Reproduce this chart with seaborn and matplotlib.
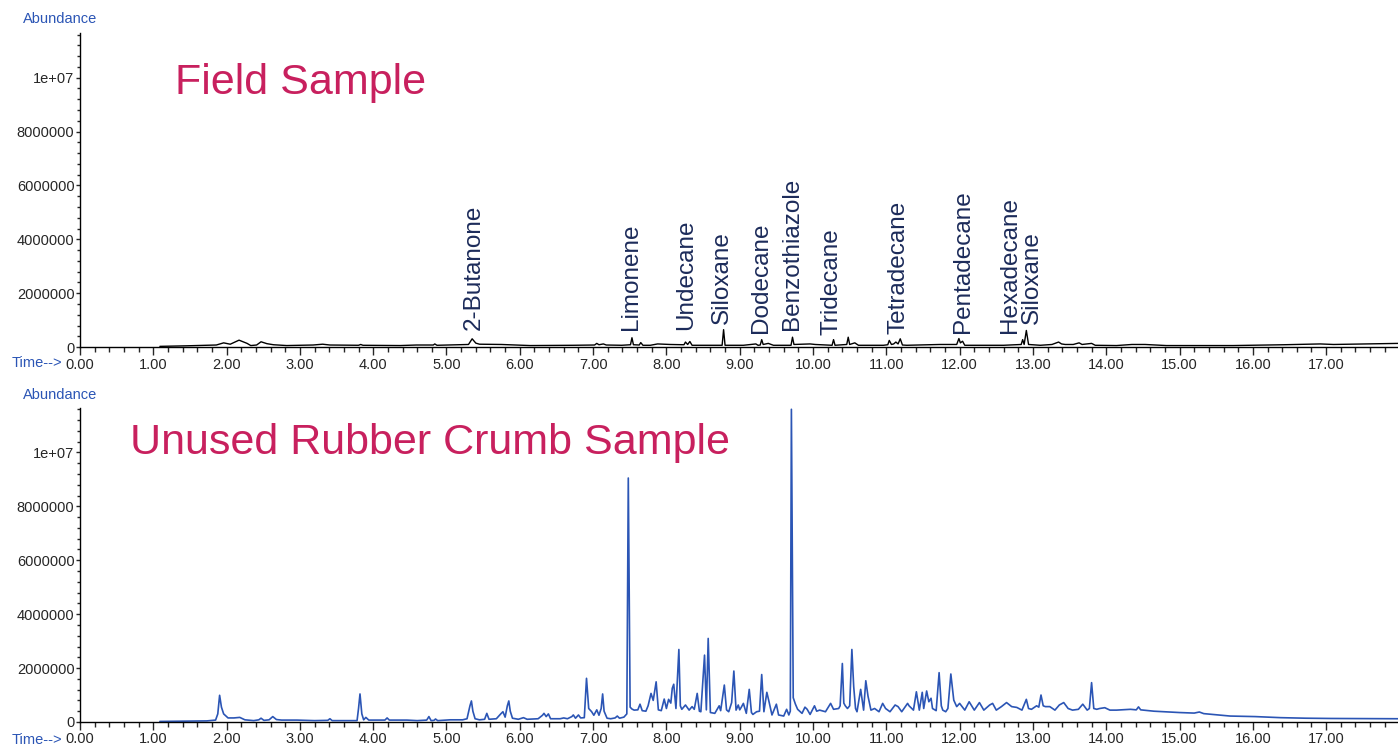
import matplotlib
matplotlib.use("Agg")
import matplotlib.pyplot as plt
import seaborn as sns
from matplotlib.ticker import MultipleLocator, FuncFormatter

# Field sample chromatogram (time in min, abundance in millions)
field_time = [1.09, 1.45, 1.86, 1.96, 2.05, 2.17, 2.28, 2.33, 2.41, 2.47, 2.55, 2.64, 2.82,
              3.18, 3.31, 3.41, 3.80, 3.83, 3.86, 4.37, 4.59, 4.82, 4.84, 4.87, 5.16, 5.30,
              5.35, 5.40, 5.45, 5.75, 6.14, 6.73, 7.02, 7.05, 7.08, 7.14, 7.18, 7.39, 7.51,
              7.53, 7.55, 7.63, 7.65, 7.68, 7.78, 7.88, 8.05, 8.24, 8.26, 8.29, 8.32, 8.35,
              8.57, 8.76, 8.78, 8.80, 9.05, 9.22, 9.25, 9.28, 9.30, 9.32, 9.39, 9.46, 9.70,
              9.72, 9.74, 9.96, 10.03, 10.26, 10.28, 10.30, 10.46, 10.48, 10.50, 10.57, 10.62,
              10.96, 11.02, 11.04, 11.07, 11.10, 11.13, 11.16, 11.19, 11.22, 11.28, 11.73,
              11.96, 11.99, 12.01, 12.04, 12.07, 12.32, 12.60, 12.84, 12.86, 12.88, 12.91,
              12.94, 13.10, 13.26, 13.35, 13.39, 13.44, 13.55, 13.63, 13.67, 13.80, 13.85,
              14.14, 14.35, 14.53, 14.82, 15.73, 16.42, 16.92, 17.10, 17.98]
field_abund = [0.03, 0.05, 0.08, 0.16, 0.11, 0.26, 0.14, 0.06, 0.08, 0.20, 0.13, 0.09, 0.06,
               0.08, 0.11, 0.08, 0.07, 0.10, 0.07, 0.06, 0.08, 0.08, 0.12, 0.07, 0.09, 0.10,
               0.31, 0.15, 0.11, 0.10, 0.06, 0.07, 0.08, 0.14, 0.09, 0.12, 0.08, 0.07, 0.09,
               0.35, 0.09, 0.08, 0.17, 0.07, 0.07, 0.12, 0.10, 0.09, 0.19, 0.10, 0.21, 0.07,
               0.07, 0.07, 0.65, 0.07, 0.07, 0.12, 0.07, 0.08, 0.28, 0.10, 0.14, 0.07, 0.07,
               0.37, 0.10, 0.12, 0.10, 0.07, 0.28, 0.07, 0.10, 0.37, 0.10, 0.16, 0.07,
               0.07, 0.09, 0.25, 0.10, 0.12, 0.19, 0.12, 0.31, 0.08, 0.07, 0.10,
               0.10, 0.32, 0.16, 0.22, 0.07, 0.07, 0.07, 0.10, 0.28, 0.10, 0.62,
               0.10, 0.07, 0.10, 0.19, 0.12, 0.10, 0.10, 0.16, 0.10, 0.14, 0.07,
               0.06, 0.10, 0.10, 0.06, 0.06, 0.09, 0.12, 0.10, 0.14]

# Unused rubber crumb chromatogram (time in min, abundance in millions)
crumb_time = [1.09, 1.40, 1.73, 1.85, 1.88, 1.905, 1.93, 1.96, 2.02, 2.10, 2.18, 2.25, 2.37,
              2.44, 2.47, 2.51, 2.58, 2.63, 2.68, 2.75, 2.96, 3.20, 3.38, 3.41, 3.44, 3.64,
              3.78, 3.80, 3.82, 3.845, 3.87, 3.90, 3.94, 4.16, 4.19, 4.22, 4.46, 4.60, 4.73,
              4.76, 4.79, 4.83, 4.85, 4.88, 5.05, 5.22, 5.28, 5.32, 5.34, 5.36, 5.39, 5.45,
              5.52, 5.55, 5.58, 5.68, 5.74, 5.77, 5.80, 5.83, 5.85, 5.87, 5.90, 5.98, 6.05,
              6.10, 6.25, 6.31, 6.33, 6.36, 6.39, 6.42, 6.55, 6.60, 6.65, 6.71, 6.73, 6.76,
              6.80, 6.83, 6.88, 6.91, 6.94, 6.98, 7.01, 7.05, 7.08, 7.11, 7.13, 7.15, 7.19,
              7.24, 7.30, 7.33, 7.36, 7.42, 7.46, 7.48, 7.505, 7.53, 7.56, 7.61, 7.64, 7.67,
              7.72, 7.75, 7.79, 7.82, 7.86, 7.89, 7.93, 7.97, 8.00, 8.03, 8.06, 8.08, 8.10,
              8.13, 8.17, 8.19, 8.21, 8.26, 8.31, 8.35, 8.38, 8.42, 8.45, 8.47, 8.52, 8.545,
              8.57, 8.60, 8.66, 8.72, 8.74, 8.79, 8.82, 8.85, 8.89, 8.92, 8.95, 8.98, 9.00,
              9.02, 9.05, 9.09, 9.13, 9.16, 9.18, 9.23, 9.27, 9.30, 9.33, 9.37, 9.40, 9.44,
              9.50, 9.53, 9.60, 9.64, 9.67, 9.69, 9.705, 9.73, 9.76, 9.79, 9.85, 9.89, 9.92,
              9.96, 10.02, 10.05, 10.09, 10.17, 10.24, 10.28, 10.35, 10.37, 10.40, 10.42,
              10.44, 10.47, 10.50, 10.53, 10.555, 10.58, 10.60, 10.65, 10.69, 10.72, 10.75,
              10.79, 10.84, 10.90, 10.95, 10.99, 11.05, 11.12, 11.16, 11.21, 11.29, 11.31,
              11.37, 11.41, 11.45, 11.49, 11.51, 11.55, 11.58, 11.61, 11.63, 11.68, 11.72,
              11.75, 11.77, 11.81, 11.84, 11.88, 11.92, 11.96, 12.00, 12.07, 12.13, 12.20,
              12.27, 12.33, 12.41, 12.45, 12.50, 12.57, 12.64, 12.71, 12.78, 12.85, 12.91,
              12.94, 12.98, 13.05, 13.08, 13.11, 13.14, 13.17, 13.23, 13.30, 13.36, 13.42,
              13.48, 13.54, 13.62, 13.68, 13.74, 13.77, 13.80, 13.83, 13.87, 13.91, 13.98,
              14.05, 14.14, 14.33, 14.41, 14.44, 14.47, 14.65, 15.00, 15.20, 15.27, 15.33,
              15.69, 16.03, 16.38, 16.72, 17.07, 17.98]
crumb_abund = [0.02, 0.03, 0.04, 0.07, 0.30, 0.99, 0.55, 0.30, 0.15, 0.15, 0.17, 0.08, 0.05,
               0.08, 0.14, 0.06, 0.08, 0.20, 0.09, 0.07, 0.07, 0.05, 0.06, 0.12, 0.05, 0.05,
               0.05, 0.50, 1.04, 0.30, 0.08, 0.17, 0.07, 0.07, 0.15, 0.07, 0.07, 0.05, 0.07,
               0.20, 0.05, 0.06, 0.11, 0.05, 0.08, 0.08, 0.12, 0.60, 0.78, 0.40, 0.12, 0.08,
               0.10, 0.32, 0.10, 0.12, 0.30, 0.38, 0.18, 0.60, 0.78, 0.40, 0.14, 0.10, 0.16,
               0.10, 0.12, 0.25, 0.32, 0.20, 0.30, 0.12, 0.12, 0.15, 0.12, 0.20, 0.26, 0.14,
               0.26, 0.15, 0.16, 1.62, 0.50, 0.38, 0.25, 0.45, 0.25, 0.50, 1.04, 0.40, 0.14,
               0.12, 0.15, 0.22, 0.14, 0.18, 0.30, 9.05, 0.55, 0.48, 0.44, 0.45, 0.66, 0.42,
               0.40, 0.60, 1.06, 0.80, 1.49, 0.45, 0.42, 0.85, 0.50, 0.84, 0.70, 1.25, 1.40,
               0.50, 2.69, 0.60, 0.47, 0.63, 0.44, 0.57, 0.47, 1.06, 0.40, 0.38, 2.48, 0.45,
               3.10, 0.35, 0.32, 0.60, 0.42, 1.37, 0.45, 0.38, 0.72, 1.89, 0.44, 0.63, 0.45,
               0.54, 0.69, 0.32, 1.21, 0.35, 0.28, 0.38, 0.40, 1.76, 0.38, 1.10, 0.75, 0.26,
               0.66, 0.26, 0.22, 0.47, 0.26, 0.40, 11.6, 0.90, 0.66, 0.47, 0.32, 0.55, 0.47,
               0.28, 0.60, 0.40, 0.44, 0.38, 0.69, 0.47, 0.50, 0.60, 2.17, 0.70,
               0.60, 0.50, 0.60, 2.69, 1.31, 0.50, 0.38, 1.21, 0.44, 1.53, 0.96,
               0.44, 0.50, 0.38, 0.69, 0.50, 0.38, 0.63, 0.57, 0.38, 0.69, 0.60,
               0.44, 1.12, 0.44, 1.10, 0.50, 1.15, 0.75, 0.88, 0.50, 0.42, 1.83,
               0.60, 0.44, 0.38, 0.50, 1.78, 0.81, 0.57, 0.69, 0.44, 0.75, 0.44,
               0.72, 0.44, 0.63, 0.69, 0.44, 0.57, 0.72, 0.57, 0.54, 0.44, 0.84,
               0.50, 0.47, 0.60, 0.55, 1.00, 0.60, 0.57, 0.57, 0.44, 0.63, 0.72,
               0.50, 0.44, 0.47, 0.66, 0.44, 0.50, 1.46, 0.50, 0.47, 0.50, 0.53,
               0.44, 0.44, 0.47, 0.45, 0.56, 0.45, 0.40, 0.35, 0.33, 0.37, 0.31,
               0.22, 0.20, 0.16, 0.14, 0.13, 0.12]

# compound labels on the field sample (retention time, label bottom in millions)
compounds = ["2-Butanone", "Limonene", "Undecane", "Siloxane", "Dodecane", "Benzothiazole",
             "Tridecane", "Tetradecane", "Pentadecane", "Hexadecane", "Siloxane"]
compound_time = [5.37, 7.52, 8.27, 8.76, 9.29, 9.71, 10.25, 11.17, 12.04, 12.69, 12.99]
compound_base = [0.63, 0.63, 0.63, 0.85, 0.52, 0.63, 0.44, 0.50, 0.52, 0.52, 0.85]

sns.set_style("ticks")
plt.rcParams['font.family'] = ['Liberation Sans', 'DejaVu Sans']

BLUE = '#2b55b5'
PINK = '#c8205e'
NAVY = '#1c2b5a'

fig = plt.figure(figsize=(13.98, 7.45), dpi=100)
ax1 = fig.add_axes([0.0572, 0.534, 0.9428, 0.4215])
ax2 = fig.add_axes([0.0572, 0.0309, 0.9428, 0.4215])

sns.lineplot(x=field_time, y=[v * 1e6 for v in field_abund], ax=ax1, color='black',
             lw=1.0, estimator=None)
sns.lineplot(x=crumb_time, y=[v * 1e6 for v in crumb_abund], ax=ax2, color=BLUE,
             lw=1.2, estimator=None)

def yfmt(v, pos):
    if v >= 1e7:
        return '1e+07'
    return f'{int(round(v))}'

for ax in (ax1, ax2):
    ax.set_xlim(0, 17.98)
    ax.set_ylim(0, 11.65e6)
    ax.xaxis.set_major_locator(MultipleLocator(1.0))
    ax.xaxis.set_minor_locator(MultipleLocator(0.2))
    ax.xaxis.set_major_formatter(FuncFormatter(lambda v, p: f'{v:.2f}'))
    ax.yaxis.set_major_locator(MultipleLocator(2e6))
    ax.yaxis.set_minor_locator(MultipleLocator(4e5))
    ax.yaxis.set_major_formatter(FuncFormatter(yfmt))
    ax.tick_params(axis='x', which='major', length=6, width=1, pad=1.5, labelsize=10.5)
    ax.tick_params(axis='x', which='minor', length=3.5, width=1)
    ax.tick_params(axis='y', which='major', length=3, width=1, pad=1, labelsize=10.5)
    ax.tick_params(axis='y', which='minor', length=2.5, width=1)
    for s in ('top', 'right'):
        ax.spines[s].set_visible(False)
    for s in ('left', 'bottom'):
        ax.spines[s].set_color('black')
        ax.spines[s].set_linewidth(1)
    ax.set_xlabel('')
    ax.set_ylabel('')

for name, t, b in zip(compounds, compound_time, compound_base):
    ax1.text(t, b * 1e6, name, rotation=90, ha='center', va='bottom',
             fontsize=17.5, color=NAVY)

ax1.text(0.072, 0.84, 'Field Sample', transform=ax1.transAxes, fontsize=31,
         color=PINK, ha='left', va='center')
ax2.text(0.038, 0.889, 'Unused Rubber Crumb Sample', transform=ax2.transAxes,
         fontsize=31, color=PINK, ha='left', va='center')

fig.text(23 / 1398, 1 - 19 / 745, 'Abundance', color=BLUE, fontsize=10.5, va='center')
fig.text(23 / 1398, 1 - 395 / 745, 'Abundance', color=BLUE, fontsize=10.5, va='center')
fig.text(12 / 1398, 1 - 363 / 745, 'Time-->', color=BLUE, fontsize=10.5, va='center')
fig.text(12 / 1398, 1 - 740 / 745, 'Time-->', color=BLUE, fontsize=10.5, va='center')

fig.savefig('out.png', dpi=100)
plt.close(fig)
